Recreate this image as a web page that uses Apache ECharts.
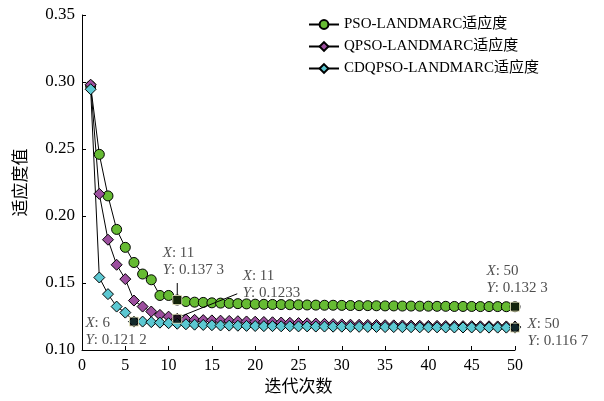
<!DOCTYPE html>
<html><head><meta charset="utf-8">
<script src="https://cdn.jsdelivr.net/npm/echarts@6/dist/echarts.min.js"></script>
<style>html,body{margin:0;padding:0;background:#fff}#c{width:604px;height:401px}</style>
</head><body><div id="c"></div>
<script>
const iterations = Array.from({length: 50}, (_, i) => i + 1);
const psoFitness = [0.297, 0.246, 0.215, 0.190, 0.1766, 0.1653, 0.1567, 0.1524, 0.1407, 0.1407,
  0.1373, 0.1362, 0.1357, 0.1355, 0.1352, 0.1350, 0.1348, 0.1346, 0.1344, 0.1342,
  0.1341, 0.1340, 0.1339, 0.1338, 0.1337, 0.1336, 0.1335, 0.1334, 0.1334, 0.1333,
  0.1332, 0.1331, 0.1331, 0.1330, 0.1329, 0.1329, 0.1328, 0.1328, 0.1327, 0.1327,
  0.1326, 0.1326, 0.1325, 0.1325, 0.1325, 0.1324, 0.1324, 0.1324, 0.1323, 0.1323];
const qpsoFitness = [0.298, 0.2165, 0.1823, 0.1636, 0.1529, 0.1369, 0.1324, 0.1287, 0.1262, 0.1249,
  0.1233, 0.1228, 0.1225, 0.1223, 0.1221, 0.1219, 0.1217, 0.1215, 0.1213, 0.1211,
  0.1209, 0.1207, 0.1205, 0.1203, 0.1201, 0.1199, 0.1197, 0.1195, 0.1193, 0.1191,
  0.1189, 0.1188, 0.1187, 0.1186, 0.1185, 0.1184, 0.1183, 0.1182, 0.1181, 0.1180,
  0.1180, 0.1179, 0.1179, 0.1178, 0.1178, 0.1177, 0.1177, 0.1176, 0.1176, 0.1175];
const cdqpsoFitness = [0.2946, 0.1541, 0.1417, 0.1324, 0.1279, 0.1212, 0.1212, 0.1208, 0.1204, 0.1200,
  0.1196, 0.1192, 0.1189, 0.1187, 0.1185, 0.1183, 0.1182, 0.1181, 0.1180, 0.1179,
  0.1178, 0.1178, 0.1177, 0.1177, 0.1176, 0.1176, 0.1175, 0.1175, 0.1174, 0.1174,
  0.1173, 0.1173, 0.1172, 0.1172, 0.1171, 0.1171, 0.1170, 0.1170, 0.1169, 0.1169,
  0.1169, 0.1168, 0.1168, 0.1168, 0.1168, 0.1167, 0.1167, 0.1167, 0.1167, 0.1167];
const seriesNames = ['PSO-LANDMARC适应度', 'QPSO-LANDMARC适应度', 'CDQPSO-LANDMARC适应度'];
const tipX = [6, 11, 11, 50, 50];
const tipY = [0.1212, 0.1373, 0.1233, 0.1323, 0.1167];
const tipYText = ['0.121 2', '0.137 3', '0.1233', '0.132 3', '0.116 7'];
const xTicks = [0, 5, 10, 15, 20, 25, 30, 35, 40, 45, 50];
const yTicks = [0.10, 0.15, 0.20, 0.25, 0.30, 0.35];

const FONT = '"Times New Roman","Liberation Serif","Noto Sans CJK SC",serif';
const tipLabelPos = [[-43.5, -2.5], [-9.5, -50.5], [70.5, -46.5], [-23.5, -39.5], [17.5, -7.5]];

const chart = echarts.init(document.getElementById('c'));
function mk(name, data, color, symbol, size) {
  return {
    name, type: 'line', data: iterations.map((x, i) => [x, data[i]]),
    symbol, symbolSize: size, showSymbol: true,
    lineStyle: {color: '#000', width: 1},
    itemStyle: {color, borderColor: '#000', borderWidth: 1},
    emphasis: {disabled: true}, animation: false
  };
}
chart.setOption({
  animation: false,
  textStyle: {fontFamily: FONT},
  grid: {left: 82, right: 89, top: 15, bottom: 51},
  legend: {
    orient: 'vertical', left: 303, top: 12, itemGap: 7, itemWidth: 30, itemHeight: 11,
    data: seriesNames,
    textStyle: {fontFamily: FONT, fontSize: 15, color: '#000'}
  },
  xAxis: {
    type: 'value', min: 0, max: 50, interval: 5,
    name: '迭代次数', nameLocation: 'middle', nameGap: 28,
    nameTextStyle: {fontFamily: FONT, fontSize: 17, color: '#000'},
    axisLine: {lineStyle: {color: '#000', width: 1}},
    axisTick: {inside: true, length: 4, lineStyle: {color: '#000'}},
    axisLabel: {color: '#000', fontSize: 16, fontFamily: FONT, margin: 8,
      formatter: v => xTicks.includes(v) ? String(v) : ''},
    splitLine: {show: false}
  },
  yAxis: {
    type: 'value', min: 0.10, max: 0.35, interval: 0.05,
    name: '适应度值', nameLocation: 'middle', nameGap: 52, nameRotate: 90,
    nameTextStyle: {fontFamily: FONT, fontSize: 17, color: '#000'},
    axisLine: {show: true, lineStyle: {color: '#000', width: 1}},
    axisTick: {show: true, inside: true, length: 4, lineStyle: {color: '#000'}},
    axisLabel: {color: '#000', fontSize: 17, fontFamily: FONT, margin: 7,
      formatter: v => { const t = yTicks.find(y => Math.abs(y - v) < 1e-9); return t === undefined ? '' : t.toFixed(2); }},
    splitLine: {show: false}
  },
  series: [
    mk(seriesNames[0], psoFitness, '#66bb33', 'circle', 10),
    mk(seriesNames[1], qpsoFitness, '#9c4f9e', 'diamond', 11),
    mk(seriesNames[2], cdqpsoFitness, '#5cc8d2', 'diamond', 11),
    {
      type: 'scatter', symbol: 'rect', symbolSize: 9, z: 5,
      itemStyle: {color: '#000', borderColor: '#f4f2c8', borderWidth: 1},
      emphasis: {disabled: true},
      data: tipX.map((x, i) => ({
        value: [x, tipY[i]],
        label: {
          show: true, position: tipLabelPos[i], align: 'left', verticalAlign: 'top',
          formatter: '{i|X}: ' + x + '\n{i|Y}: ' + tipYText[i],
          color: '#222', fontSize: 15, fontFamily: FONT, lineHeight: 17,
          rich: {i: {fontStyle: 'italic', fontSize: 15, fontFamily: FONT, color: '#222', lineHeight: 17}}
        }
      }))
    }
  ]
});
// leader lines for the two tips at X = 11, anchored via the axis scales
const p1 = chart.convertToPixel({gridIndex: 0}, [tipX[1], tipY[1]]);
const p2 = chart.convertToPixel({gridIndex: 0}, [tipX[2], tipY[2]]);
chart.setOption({graphic: [
  {type: 'line', shape: {x1: p1[0], y1: p1[1] - 5, x2: p1[0], y2: p1[1] - 17}, style: {stroke: '#000', lineWidth: 1}, z: 10},
  {type: 'line', shape: {x1: p2[0] + 5, y1: p2[1] - 3, x2: p2[0] + 60, y2: p2[1] - 25}, style: {stroke: '#000', lineWidth: 1}, z: 10}
]});
</script></body></html>
